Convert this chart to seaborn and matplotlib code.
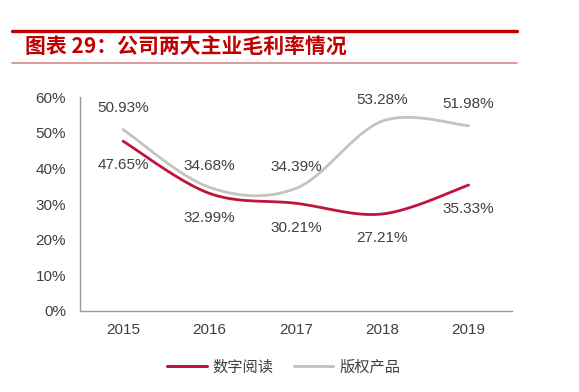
import numpy as np
import pandas as pd
import matplotlib
matplotlib.use("Agg")
import matplotlib.pyplot as plt
import matplotlib.ticker as mticker
from matplotlib.lines import Line2D
import seaborn as sns

# -----------------------------
# Data
# -----------------------------
years = ["2015", "2016", "2017", "2018", "2019"]
digital_reading = [47.65, 32.99, 30.21, 27.21, 35.33]   # 数字阅读
copyright_products = [50.93, 34.68, 34.39, 53.28, 51.98]  # 版权产品
series_names = ["数字阅读", "版权产品"]

title = "图表 29：公司两大主业毛利率情况"

RED = "#c0143c"
GRAY = "#c3c3c3"
TEXT = "#404040"


def smooth(ys, steps=40):
    # Excel-style smoothed line (Catmull-Rom bezier through the points)
    xs = np.arange(len(ys), dtype=float)
    ys = np.asarray(ys, dtype=float)
    px = np.concatenate([[xs[0]], xs, [xs[-1]]])
    py = np.concatenate([[ys[0]], ys, [ys[-1]]])
    out_x, out_y = [], []
    for i in range(1, len(px) - 2):
        p0 = np.array([px[i - 1], py[i - 1]])
        p1 = np.array([px[i], py[i]])
        p2 = np.array([px[i + 1], py[i + 1]])
        p3 = np.array([px[i + 2], py[i + 2]])
        c1 = p1 + (p2 - p0) / 6
        c2 = p2 - (p3 - p1) / 6
        t = np.linspace(0, 1, steps)[:, None]
        pts = ((1 - t) ** 3) * p1 + 3 * ((1 - t) ** 2) * t * c1 + 3 * (1 - t) * t ** 2 * c2 + t ** 3 * p2
        out_x.extend(pts[:, 0])
        out_y.extend(pts[:, 1])
    return np.array(out_x), np.array(out_y)


sns.set_style("white")
plt.rcParams["font.family"] = ["Liberation Sans", "Noto Sans CJK SC", "DejaVu Sans"]

fig = plt.figure(figsize=(5.79, 3.92), dpi=100)
ax = fig.add_axes([0.138, 0.207, 0.746, 0.545])

frames = []
for name, vals in zip(series_names, [digital_reading, copyright_products]):
    sx, sy = smooth(vals)
    frames.append(pd.DataFrame({"x": sx, "y": sy, "series": name}))
df = pd.concat(frames, ignore_index=True)

sns.lineplot(data=df, x="x", y="y", hue="series", palette=[RED, GRAY],
             sort=False, estimator=None, linewidth=2.0, legend=False, ax=ax)

# value labels
for i, v in enumerate(copyright_products):
    ax.annotate(f"{v:.2f}%", (i, v), xytext=(0, 15.5), textcoords="offset points",
                ha="center", va="center", fontsize=11, color=TEXT)
for i, v in enumerate(digital_reading):
    ax.annotate(f"{v:.2f}%", (i, v), xytext=(0, -17.5), textcoords="offset points",
                ha="center", va="center", fontsize=11, color=TEXT)

# axes styling
ax.set_xlim(-0.5, len(years) - 0.5)
ax.set_ylim(0, 60)
ax.set_xticks(range(len(years)))
ax.set_xticklabels(years)
ax.set_xticks(np.arange(-0.5, len(years), 1.0), minor=True)
ax.tick_params(axis="x", which="major", length=0, pad=9, labelsize=11, labelcolor=TEXT)
ax.tick_params(axis="x", which="minor", length=4, width=1, color="#999999", direction="out")
ax.yaxis.set_major_locator(mticker.MultipleLocator(10))
ax.yaxis.set_major_formatter(mticker.FuncFormatter(lambda v, p: f"{v:.0f}%"))
ax.tick_params(axis="y", length=4, width=1, color="#999999", direction="out",
               pad=6, labelsize=11, labelcolor=TEXT)
ax.set_xlabel("")
ax.set_ylabel("")
for s in ["top", "right"]:
    ax.spines[s].set_visible(False)
for s in ["left", "bottom"]:
    ax.spines[s].set_color("#999999")
    ax.spines[s].set_linewidth(1)

# legend
handles = [Line2D([0], [0], color=RED, linewidth=2.2),
           Line2D([0], [0], color=GRAY, linewidth=2.2)]
fig.legend(handles, series_names, loc="center", bbox_to_anchor=(0.49, 0.063),
           ncol=2, frameon=False, handlelength=2.6, handletextpad=0.4, columnspacing=1.3,
           prop={"family": ["Noto Sans CJK SC", "DejaVu Sans"], "size": 11}, labelcolor=TEXT)

# title with rules
fig.add_artist(Line2D([12 / 579, 517 / 579], [1 - 31 / 392, 1 - 31 / 392],
                      color="#c00000", linewidth=2.4, transform=fig.transFigure))
fig.add_artist(Line2D([12 / 579, 517 / 579], [1 - 63 / 392, 1 - 63 / 392],
                      color="#d48a8a", linewidth=1.2, transform=fig.transFigure))
fig.text(25 / 579, 1 - 47 / 392, title, ha="left", va="center", fontsize=15,
         fontweight="bold", color="#c00000",
         family=["Noto Sans CJK SC", "DejaVu Sans"])

fig.savefig("out.png", dpi=100, facecolor="white")
